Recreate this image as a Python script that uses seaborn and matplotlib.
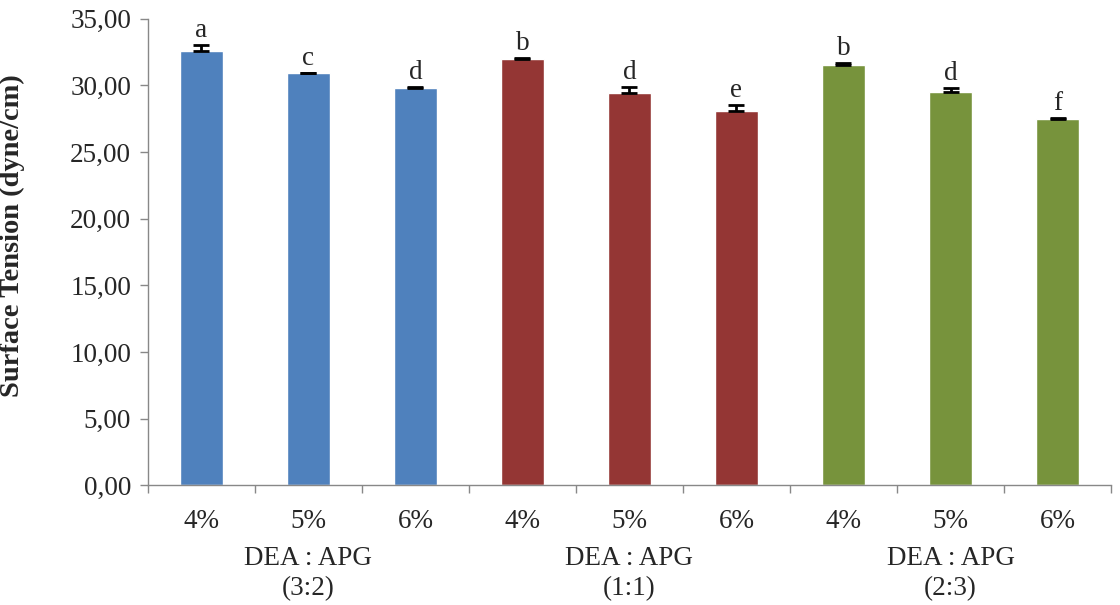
import numpy as np
import pandas as pd
import seaborn as sns
import matplotlib.pyplot as plt
from matplotlib.ticker import FixedLocator, FuncFormatter

# ---------------- data ----------------
groups = ['DEA : APG\n(3:2)', 'DEA : APG\n(1:1)', 'DEA : APG\n(2:3)']
conc = ['4%', '5%', '6%']
tension = [32.6, 30.9, 29.8, 32.0, 29.45, 28.1, 31.55, 29.5, 27.5]
errors = [0.45, 0.05, 0.1, 0.05, 0.45, 0.4, 0.1, 0.3, 0.05]
letters = ['a', 'c', 'd', 'b', 'd', 'e', 'b', 'd', 'f']
colors = ['#4F81BD', '#943634', '#77933C']

ids = [f'{g}|{c}' for g in groups for c in conc]
df = pd.DataFrame({'id': ids, 'val': tension,
                   'grp': [g for g in groups for c in conc]})

sns.set_style('white')
plt.rcParams['font.family'] = ['Liberation Serif', 'DejaVu Serif']
FS = 19.5

fig, ax = plt.subplots(figsize=(11.2, 6.05), dpi=100)
fig.subplots_adjust(left=0.132, right=0.992, top=0.969, bottom=0.198)

sns.barplot(data=df, x='id', y='val', hue='grp', order=ids,
            palette=colors, width=0.4, dodge=False, legend=False,
            saturation=1, ax=ax)

xs = np.arange(len(ids))
ax.errorbar(xs, tension, yerr=[np.zeros(len(errors)), errors], fmt='none',
            ecolor='black', elinewidth=2, capsize=6, capthick=2)
for x, v, e, l in zip(xs, tension, errors, letters):
    ax.text(x, v + e + 0.15, l, ha='center', va='bottom', fontsize=FS)

ax.set_ylim(0, 35)
ax.set_xlim(-0.5, len(ids) - 0.5)
ax.set_yticks(np.arange(0, 36, 5))
ax.yaxis.set_major_formatter(FuncFormatter(lambda v, p: f'{v:.2f}'.replace('.', ',')))
ax.set_xticks(xs)
ax.set_xticklabels(conc * 3)
ax.xaxis.set_minor_locator(FixedLocator(np.arange(-0.5, len(ids), 1)))
ax.tick_params(axis='x', which='major', length=0, pad=17, labelsize=FS)
ax.tick_params(axis='x', which='minor', length=6, width=1, color='#888888', bottom=True)
ax.tick_params(axis='y', length=6, width=1, color='#888888', left=True, labelsize=FS, pad=6)

for s in ['top', 'right']:
    ax.spines[s].set_visible(False)
for s in ['left', 'bottom']:
    ax.spines[s].set_color('#888888')
    ax.spines[s].set_linewidth(1)

ax.set_xlabel('')
ax.set_ylabel('Surface Tension (dyne/cm)', fontsize=20.5, fontweight='bold')
ax.yaxis.set_label_coords(-0.128, 0.536)

for i, g in enumerate(groups):
    ax.text(i * 3 + 1, -0.13, g, transform=ax.get_xaxis_transform(),
            ha='center', va='top', fontsize=FS, linespacing=1.3)

fig.savefig('out.png', dpi=100)
